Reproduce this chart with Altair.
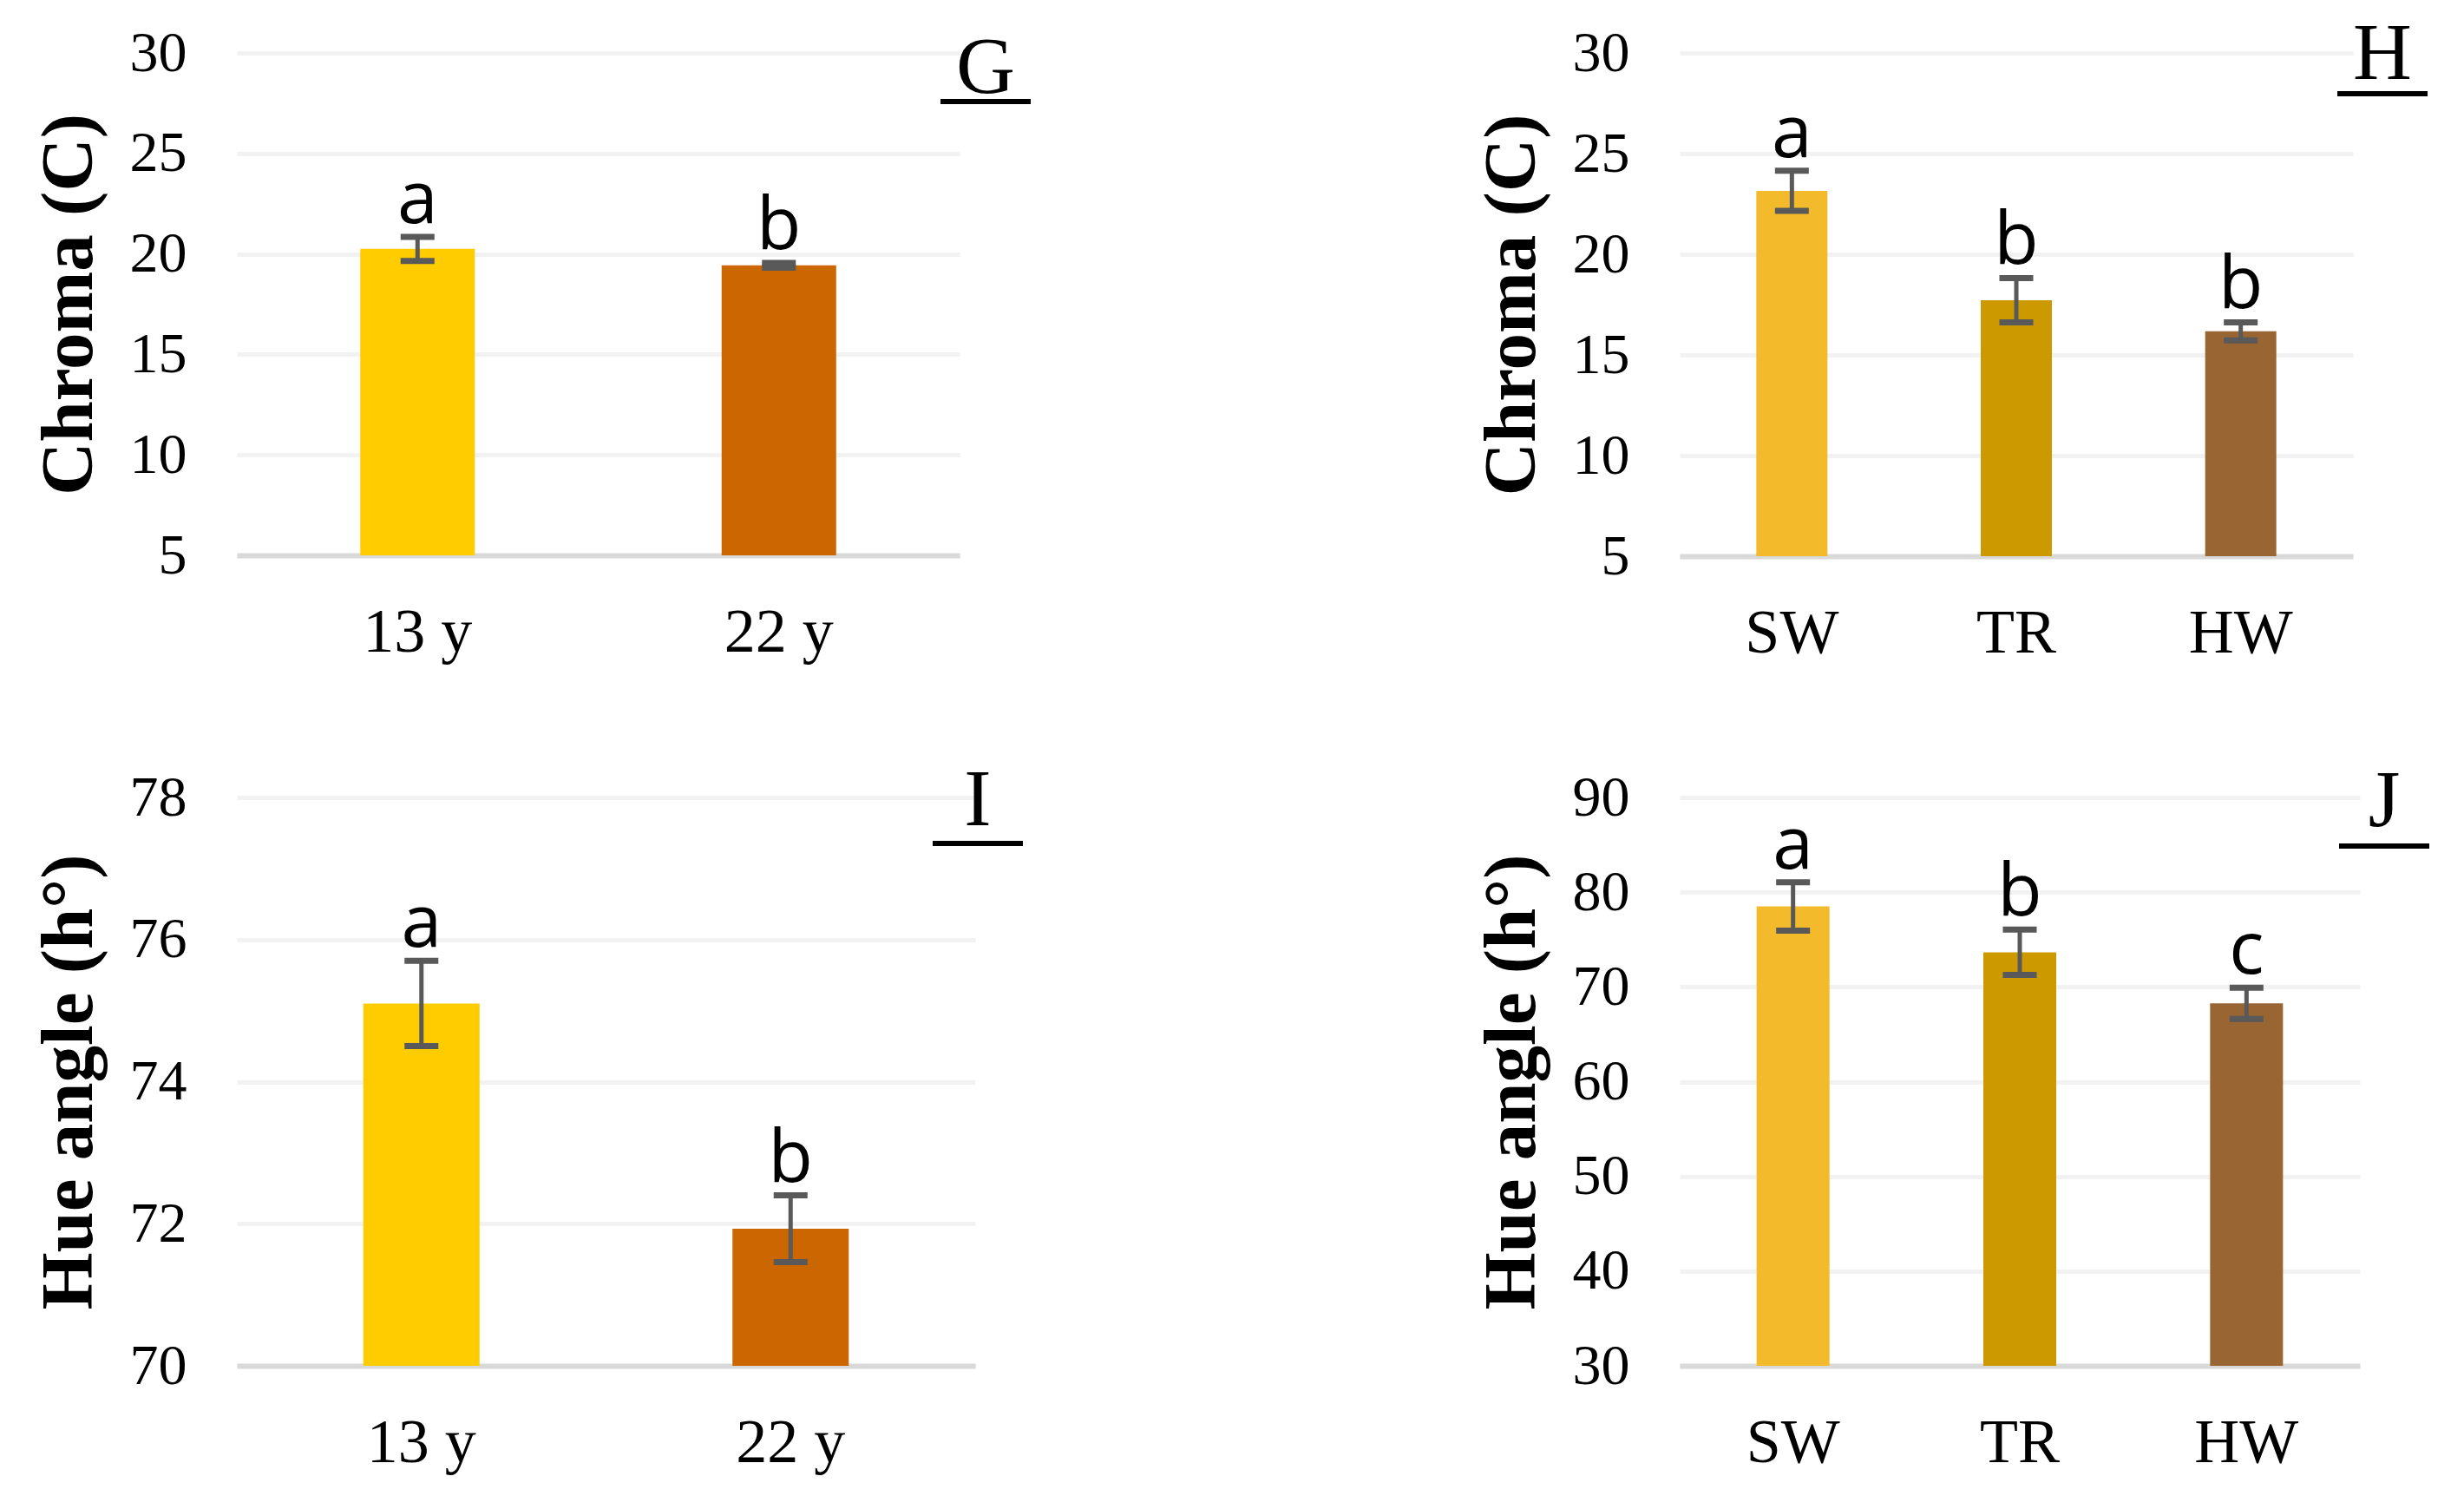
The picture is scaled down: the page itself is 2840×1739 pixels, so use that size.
import altair as alt
import pandas as pd

SERIF = "Liberation Serif"
SANS = "Open Sans"

# panel G: chroma by age
g_cats = ["13 y", "22 y"]
g_vals = [20.25, 19.43]
g_errs = [0.6, 0.12]
g_letters = ["a", "b"]
g_colors = ["#FFCC00", "#CC6600"]
g_ticks = [5, 10, 15, 20, 25, 30]

# panel H: chroma by wood zone
h_cats = ["SW", "TR", "HW"]
h_vals = [23.15, 17.72, 16.17]
h_errs = [1.0, 1.1, 0.45]
h_letters = ["a", "b", "b"]
h_colors = ["#F3BB2B", "#CC9900", "#996633"]
h_ticks = [5, 10, 15, 20, 25, 30]

# panel I: hue angle by age
i_cats = ["13 y", "22 y"]
i_vals = [75.1, 71.93]
i_errs = [0.6, 0.47]
i_letters = ["a", "b"]
i_colors = ["#FFCC00", "#CC6600"]
i_ticks = [70, 72, 74, 76, 78]

# panel J: hue angle by wood zone
j_cats = ["SW", "TR", "HW"]
j_vals = [78.5, 73.66, 68.27]
j_errs = [2.55, 2.4, 1.65]
j_letters = ["a", "b", "c"]
j_colors = ["#F3BB2B", "#CC9900", "#996633"]
j_ticks = [30, 40, 50, 60, 70, 80, 90]


def panel(cats, vals, errs, letters, colors, ticks, ytitle, tag,
          w, h, bar, tag_x, tag_base, line_y):
    df = pd.DataFrame({
        "cat": cats,
        "val": vals,
        "lo": [v - e for v, e in zip(vals, errs)],
        "hi": [v + e for v, e in zip(vals, errs)],
        "lab": letters,
        "col": colors,
    })
    ymin, ymax = ticks[0], ticks[-1]
    x = alt.X("cat:N", sort=cats, title=None,
              scale=alt.Scale(paddingInner=0, paddingOuter=0),
              axis=alt.Axis(labelAngle=0, labelFont=SERIF, labelFontSize=72,
                            labelColor="black", labelPadding=53, ticks=False,
                            domainColor="#D9D9D9", domainWidth=6))
    yscale = alt.Scale(domain=[ymin, ymax], nice=False, zero=False)
    base = alt.Chart(df).encode(x=x)

    bars = base.mark_bar(size=bar).encode(
        y=alt.Y("val:Q", scale=yscale, title=ytitle,
                axis=alt.Axis(values=ticks, format="d", labelFont=SERIF,
                              labelFontSize=66, labelColor="black",
                              labelPadding=58, ticks=False, domain=False,
                              gridColor="#F2F2F2", gridWidth=5,
                              titleFont=SERIF, titleFontSize=85,
                              titleFontWeight="bold", titleColor="black",
                              titlePadding=26)),
        y2=alt.datum(ymin),
        color=alt.Color("col:N", scale=None, legend=None),
    )
    stems = base.mark_rule(color="#595959", strokeWidth=5).encode(
        y="lo:Q", y2="hi:Q")
    caps_lo = base.mark_tick(orient="horizontal", size=39, thickness=7,
                             color="#595959", opacity=1).encode(y="lo:Q")
    caps_hi = base.mark_tick(orient="horizontal", size=39, thickness=7,
                             color="#595959", opacity=1).encode(y="hi:Q")
    labels = base.mark_text(font=SANS, fontSize=84, baseline="alphabetic",
                            dy=-16, color="black").encode(y="hi:Q", text="lab:N")

    tag_df = pd.DataFrame({"t": [tag]})
    tag_text = alt.Chart(tag_df).mark_text(
        font=SERIF, fontSize=94, align="center", baseline="alphabetic",
        color="black").encode(x=alt.value(tag_x), y=alt.value(tag_base), text="t:N")
    tag_line = alt.Chart(tag_df).mark_rule(color="black", strokeWidth=6).encode(
        x=alt.value(tag_x - 52), x2=alt.value(tag_x + 52), y=alt.value(line_y))

    return alt.layer(bars, stems, caps_lo, caps_hi, labels, tag_text, tag_line
                     ).properties(width=w, height=h)


G = panel(g_cats, g_vals, g_errs, g_letters, g_colors, g_ticks, "Chroma (C)", "G",
          833, 579, 132, 863, 46, 56)
H = panel(h_cats, h_vals, h_errs, h_letters, h_colors, h_ticks, "Chroma (C)", "H",
          776, 580, 82, 810, 30, 47)
I = panel(i_cats, i_vals, i_errs, i_letters, i_colors, i_ticks, "Hue angle (h°)", "I",
          851, 655, 134, 854, 32, 53)
J = panel(j_cats, j_vals, j_errs, j_letters, j_colors, j_ticks, "Hue angle (h°)", "J",
          784, 655, 84, 812, 33, 56)

chart = alt.concat(
    G, H, I, J,
    columns=2,
    spacing={"row": 278, "column": 812},
    bounds="flush",
).configure_view(stroke=None).properties(
    padding={"left": 28, "top": 8, "right": 5, "bottom": 5},
    background="white",
)

chart.save("out.html", embed_options={"renderer": "svg", "actions": False})
